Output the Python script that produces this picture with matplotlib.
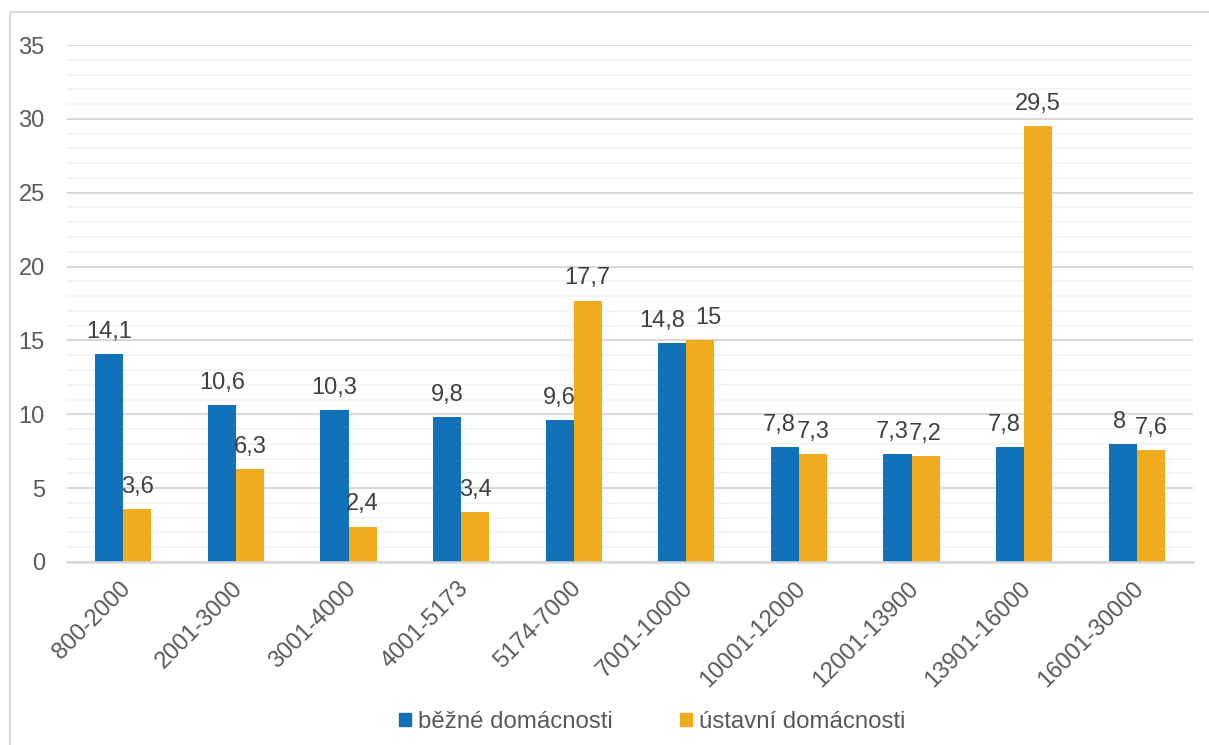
import matplotlib
matplotlib.use("Agg")
import matplotlib.pyplot as plt
import matplotlib.patches as mpatches
import matplotlib.transforms as mtransforms
import numpy as np

plt.rcParams['font.family'] = ['Liberation Sans', 'DejaVu Sans']

categories = ["800-2000", "2001-3000", "3001-4000", "4001-5173", "5174-7000",
              "7001-10000", "10001-12000", "12001-13900", "13901-16000", "16001-30000"]
bezne = [14.1, 10.6, 10.3, 9.8, 9.6, 14.8, 7.8, 7.3, 7.8, 8.0]
ustavni = [3.6, 6.3, 2.4, 3.4, 17.7, 15.0, 7.3, 7.2, 29.5, 7.6]
series_names = ["běžné domácnosti", "ústavní domácnosti"]
colors = ["#1172BA", "#F0AC1F"]

# horizontal nudges of data labels (pixels) to avoid collisions, as in the reference
label_dx = [
    [0, 0, 0, 0, 0, -10, -5.5, -5.5, -6, -3],
    [0, 0, 0, 0, 0, 8, 0, 0, 0, 0],
]

W, H = 1209, 745
fig = plt.figure(figsize=(W / 100, H / 100), dpi=100)
ax = fig.add_axes([67 / W, 1 - 562 / H, (1193 - 67) / W, (562 - 45) / H])

txt = "#595959"
fs = 17
x = np.arange(len(categories))
bw = 0.25

def fmt(v):
    return ("%g" % v).replace(".", ",")

for i, (vals, name, c) in enumerate(zip([bezne, ustavni], series_names, colors)):
    xs = x + (i - 0.5) * bw
    ax.bar(xs, vals, width=bw, color=c, label=name, zorder=3)
    for xi, v, dx in zip(xs, vals, label_dx[i]):
        ax.annotate(fmt(v), (xi, v), xytext=(dx * 0.72, 8), textcoords="offset points",
                    ha="center", va="bottom", fontsize=fs, color="#404040", zorder=4)

ax.set_xlim(-0.5, len(categories) - 0.5)
ax.set_ylim(0, 35)
ax.set_yticks(np.arange(0, 36, 5))
ax.set_yticks(np.arange(0, 36, 1), minor=True)
ax.yaxis.grid(True, which="major", color="#D9D9D9", linewidth=1.5, zorder=0)
ax.yaxis.grid(True, which="minor", color="#F2F2F2", linewidth=1.2, zorder=0)
ax.tick_params(axis="y", which="both", length=0, pad=16, labelsize=fs, labelcolor=txt)
ax.tick_params(axis="x", length=0, pad=11, labelsize=fs, labelcolor=txt)
ax.set_xticks(x)
ax.set_xticklabels(categories, rotation=45, ha="right", va="top", rotation_mode="anchor")
shift = mtransforms.ScaledTranslation(-4 / 100, 0, fig.dpi_scale_trans)
for lab in ax.get_xticklabels():
    lab.set_transform(lab.get_transform() + shift)
for s in ["top", "right", "left"]:
    ax.spines[s].set_visible(False)
ax.spines["bottom"].set_color("#D9D9D9")
ax.spines["bottom"].set_linewidth(1.8)
ax.spines["bottom"].set_zorder(5)

handles = [mpatches.Patch(color=c) for c in colors]
fig.legend(handles, series_names, loc="center", bbox_to_anchor=(652 / W, 1 - 722 / H),
           ncol=2, frameon=False, fontsize=17.3, labelcolor=txt,
           handlelength=0.5, handleheight=0.5, handletextpad=0.3, columnspacing=2.8)

border = mpatches.Rectangle((10 / W, -0.1), 1.2, 1 - 12 / H + 0.1, transform=fig.transFigure,
                            fill=False, edgecolor="#D9D9D9", linewidth=1.5)
fig.patches.append(border)

fig.savefig("out.png", dpi=100)
